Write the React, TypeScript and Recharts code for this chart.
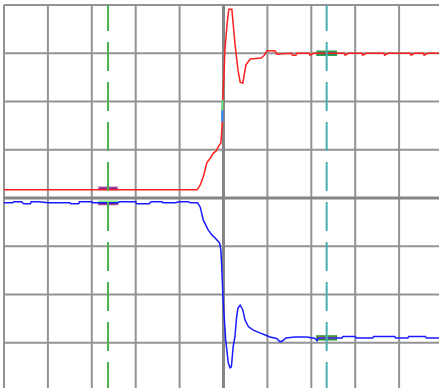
import React from "react";
import {
  LineChart,
  Line,
  XAxis,
  YAxis,
  CartesianGrid,
  ReferenceLine,
  ReferenceArea,
} from "recharts";

// time in divisions (0..10), level in divisions (-4..4)
const xTicks = [0, 1, 2, 3, 4, 5, 6, 7, 8, 9, 10];
const yTicks = [-4, -3, -2, -1, 0, 1, 2, 3, 4];

const redT = [
  0, 4.4, 4.47, 4.54, 4.62, 4.7, 4.77, 4.83, 4.88, 4.94, 4.96, 4.97, 4.98, 5.01,
  5.03, 5.08, 5.12, 5.19, 5.26, 5.33, 5.38, 5.44, 5.51, 5.61, 5.86, 5.93, 5.99,
  6.17, 6.22, 6.55, 6.57, 6.65, 6.67, 6.95, 6.97, 7.05, 7.75, 7.77, 7.85, 8.15,
  8.17, 8.25, 8.65, 8.67, 8.75, 9.25, 9.27, 9.35, 9.55, 9.57, 9.65, 10,
];
const redV = [
  0.17, 0.17, 0.27, 0.44, 0.73, 0.83, 0.93, 0.97, 1.06, 1.14, 1.37, 1.58, 2.03,
  2.51, 3.03, 3.59, 3.91, 3.91, 3.21, 2.65, 2.4, 2.38, 2.76, 2.88, 2.9, 2.96,
  3.05, 3.05, 2.98, 3.0, 2.96, 2.96, 3.0, 3.0, 2.96, 3.0, 3.0, 2.96, 3.0, 3.0,
  2.96, 3.0, 3.0, 2.96, 3.0, 3.0, 2.96, 3.0, 3.0, 2.96, 3.0, 3.0,
];

const blueT = [
  0, 0.2, 0.22, 0.4, 0.45, 0.6, 0.62, 0.8, 1.0, 1.5, 1.52, 1.7, 1.72, 2.0, 2.02,
  2.6, 2.62, 3.0, 3.02, 3.3, 3.35, 3.6, 3.62, 3.9, 4.0, 4.2, 4.25, 4.41, 4.47,
  4.54, 4.65, 4.74, 4.81, 4.91, 4.94, 4.96, 4.99, 5.05, 5.11, 5.15, 5.18, 5.22,
  5.26, 5.3, 5.33, 5.38, 5.44, 5.49, 5.57, 5.68, 5.84, 5.95, 6.06, 6.21, 6.29,
  6.35, 6.42, 6.63, 6.9, 7.09, 7.13, 7.16, 7.7, 7.72, 8.0, 8.02, 8.4, 8.42,
  8.9, 8.92, 9.2, 9.22, 9.6, 9.62, 10,
];
const blueV = [
  -0.1, -0.1, -0.08, -0.08, -0.12, -0.12, -0.08, -0.08, -0.1, -0.1, -0.12,
  -0.12, -0.08, -0.08, -0.1, -0.1, -0.08, -0.08, -0.12, -0.12, -0.08, -0.08,
  -0.1, -0.1, -0.08, -0.08, -0.1, -0.1, -0.19, -0.46, -0.66, -0.77, -0.83,
  -0.93, -1.08, -1.42, -2.11, -2.94, -3.42, -3.52, -3.5, -3.08, -2.88, -2.46,
  -2.28, -2.22, -2.32, -2.53, -2.67, -2.74, -2.8, -2.84, -2.88, -2.91, -2.98,
  -2.96, -2.9, -2.88, -2.88, -2.91, -2.96, -2.9, -2.9, -2.87, -2.87, -2.9,
  -2.9, -2.87, -2.87, -2.9, -2.9, -2.87, -2.87, -2.9, -2.9,
];

// trigger crossing highlight on the red trace
const crossT = [4.972, 4.974, 4.976];
const crossV = [1.58, 1.82, 2.03];

const cursorTimes = [2.37, 7.35];

const redData = redT.map((t, i) => ({ t, v: redV[i] }));
const blueData = blueT.map((t, i) => ({ t, v: blueV[i] }));
const crossBlue = [
  { t: crossT[0], v: crossV[0] },
  { t: crossT[1], v: crossV[1] },
];
const crossGreen = [
  { t: crossT[1], v: crossV[1] },
  { t: crossT[2], v: crossV[2] },
];

function levelAt(ts: number[], vs: number[], t: number) {
  for (let i = 0; i < ts.length - 1; i++) {
    if (t >= ts[i] && t <= ts[i + 1]) return vs[i];
  }
  return vs[vs.length - 1];
}

const HALF_W = 0.22;
const MH = 0.04;

export default function App() {
  const [c1, c2] = cursorTimes;
  const r1 = levelAt(redT, redV, c1);
  const b1 = levelAt(blueT, blueV, c1);
  const r2 = levelAt(redT, redV, c2);
  const b2 = levelAt(blueT, blueV, c2);
  return (
    <div
      style={{
        position: "fixed",
        left: 0,
        top: 0,
        width: 439,
        height: 388,
        overflow: "hidden",
        background: "#fff",
      }}
    >
      <LineChart
        width={445}
        height={395}
        margin={{ top: 5, left: 4, right: 2, bottom: 4 }}
      >
        <CartesianGrid stroke="#939393" strokeWidth={2} />
        <XAxis
          dataKey="t"
          type="number"
          domain={[0, 10]}
          ticks={xTicks}
          hide
          allowDataOverflow
        />
        <YAxis
          type="number"
          domain={[-4, 4]}
          ticks={yTicks}
          hide
          width={0}
          allowDataOverflow
        />
        <ReferenceLine x={5} stroke="#858585" strokeWidth={3} />
        <ReferenceLine y={0} stroke="#858585" strokeWidth={3} />
        <Line
          data={redData}
          dataKey="v"
          stroke="#ff2020"
          strokeWidth={1.5}
          dot={false}
          isAnimationActive={false}
          type="linear"
        />
        <Line
          data={blueData}
          dataKey="v"
          stroke="#1a1aff"
          strokeWidth={1.5}
          dot={false}
          isAnimationActive={false}
          type="linear"
        />
        <Line
          data={crossBlue}
          dataKey="v"
          stroke="#2a8cff"
          strokeWidth={2}
          dot={false}
          isAnimationActive={false}
        />
        <Line
          data={crossGreen}
          dataKey="v"
          stroke="#5fe07a"
          strokeWidth={2}
          dot={false}
          isAnimationActive={false}
        />
        <ReferenceArea
          x1={c1 - HALF_W}
          x2={c1 + HALF_W}
          y1={r1}
          y2={r1 + MH + 0.02}
          fill="#8b2a8b"
          fillOpacity={1}
          stroke="#c58ac5"
          strokeWidth={1}
        />
        <ReferenceArea
          x1={c1 - HALF_W}
          x2={c1 + HALF_W}
          y1={b1}
          y2={b1 + MH}
          fill="#90ee90"
          fillOpacity={1}
          stroke="#90ee90"
          strokeWidth={1}
        />
        <ReferenceArea
          x1={c1 - HALF_W}
          x2={c1 + HALF_W}
          y1={b1 - MH}
          y2={b1}
          fill="#7a1f6a"
          fillOpacity={1}
          stroke="#a04a90"
          strokeWidth={1}
        />
        <ReferenceArea
          x1={c2 - HALF_W}
          x2={c2 + HALF_W}
          y1={r2 - MH}
          y2={r2 + MH}
          fill="#1f6e86"
          fillOpacity={1}
          stroke="#2ea043"
          strokeWidth={1.5}
        />
        <ReferenceArea
          x1={c2 - HALF_W}
          x2={c2 + HALF_W}
          y1={b2 - MH}
          y2={b2 + MH}
          fill="#f0a030"
          fillOpacity={1}
          stroke="#2e8b2e"
          strokeWidth={1.5}
        />
        <ReferenceLine x={c2} stroke="#4aaeae" strokeWidth={2} strokeDasharray="29 11" />
        <ReferenceLine x={c1} stroke="#4caf50" strokeWidth={2} strokeDasharray="29 11" />
      </LineChart>
    </div>
  );
}
